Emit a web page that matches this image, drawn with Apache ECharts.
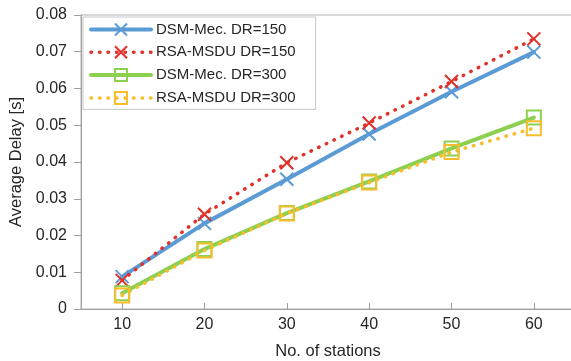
<!DOCTYPE html>
<html>
<head>
<meta charset="utf-8">
<script src="https://cdn.jsdelivr.net/npm/echarts@6/dist/echarts.min.js"></script>
<style>html,body{margin:0;padding:0;background:#fff}#c{width:571px;height:361px}</style>
</head>
<body>
<div id="c"></div>
<script>
var stations = [10, 20, 30, 40, 50, 60];
var xTicks = [10, 20, 30, 40, 50, 60];
var seriesNames = ['DSM-Mec. DR=150', 'RSA-MSDU DR=150', 'DSM-Mec. DR=300', 'RSA-MSDU DR=300'];
var dsm150 = [0.0088, 0.0233, 0.0353, 0.0476, 0.0591, 0.0699];
var rsa150 = [0.0078, 0.0258, 0.0398, 0.0506, 0.0619, 0.0735];
var dsm300 = [0.0043, 0.0163, 0.0261, 0.0347, 0.0437, 0.0521];
var rsa300 = [0.0037, 0.0159, 0.0260, 0.0344, 0.0427, 0.0492];

var colors = ['#5b9bd5', '#e0302a', '#8dcf4f', '#f7bd2a'];
var dotted = [false, true, false, true];
var crossPath = 'path://M0,0L10,10M10,0L0,10';
var squarePath = 'path://M0,0L10,0L10,10L0,10Z';
function pairs(vals){ return stations.map(function(s,i){ return [s, vals[i]]; }); }
function lineStyleFor(i){
  return dotted[i] ? {color: colors[i], width: 3.5, type: [0.5, 8], cap: 'round'}
                   : {color: colors[i], width: 4, cap: 'round'};
}
function mk(i, vals, sym){
  return {
    name: seriesNames[i], type: 'line', data: pairs(vals),
    symbol: sym, symbolSize: sym === crossPath ? 13 : 14,
    showSymbol: true,
    lineStyle: lineStyleFor(i),
    itemStyle: {color: 'rgba(0,0,0,0)', borderColor: colors[i], borderWidth: 2},
    emphasis: {disabled: true},
    animation: false
  };
}
var chart = echarts.init(document.getElementById('c'));
chart.setOption({
  backgroundColor: '#fff',
  textStyle: {fontFamily: 'Liberation Sans, Arial, sans-serif', color: '#262626'},
  grid: {left: 81, top: 15, bottom: 52, right: -4, show: true, borderColor: '#b0b0b0', borderWidth: 1,
         outerBoundsMode: 'none', containLabel: false},
  legend: {
    orient: 'vertical', left: 83, top: 17,
    padding: [5, 20, 4, 6],
    itemWidth: 60, itemHeight: 15, itemGap: 7.8, itemTextGap: 5,
    borderColor: '#c8c8c8', borderWidth: 1, backgroundColor: '#fff',
    textStyle: {fontSize: 15, color: '#262626', fontFamily: 'Liberation Sans, Arial, sans-serif'},
    data: seriesNames.map(function(n, i){ return {name: n, lineStyle: lineStyleFor(i)}; })
  },
  xAxis: {
    type: 'value', min: 5, max: 65,
    name: 'No. of stations', nameLocation: 'middle', nameGap: 34,
    nameTextStyle: {fontSize: 16.5, color: '#262626'},
    axisLine: {lineStyle: {color: '#a0a0a0', width: 1}},
    axisTick: {inside: true, length: 6, customValues: xTicks, lineStyle: {color: '#a0a0a0'}},
    axisLabel: {fontSize: 16, color: '#262626', margin: 8, customValues: xTicks},
    splitLine: {show: false}
  },
  yAxis: {
    type: 'value', min: 0, max: 0.08, interval: 0.01,
    name: 'Average Delay [s]', nameLocation: 'middle', nameGap: 52,
    nameTextStyle: {fontSize: 16.5, color: '#262626'},
    axisLine: {show: true, lineStyle: {color: '#a0a0a0', width: 1}},
    axisTick: {show: true, inside: false, length: 7, lineStyle: {color: '#a0a0a0'}},
    axisLabel: {fontSize: 16, color: '#262626', margin: 14,
      formatter: function(v){ return v === 0 ? '0' : v.toFixed(2); }},
    splitLine: {show: false}
  },
  series: [
    mk(0, dsm150, crossPath),
    mk(1, rsa150, crossPath),
    mk(2, dsm300, squarePath),
    mk(3, rsa300, squarePath)
  ]
});
</script>
</body>
</html>
